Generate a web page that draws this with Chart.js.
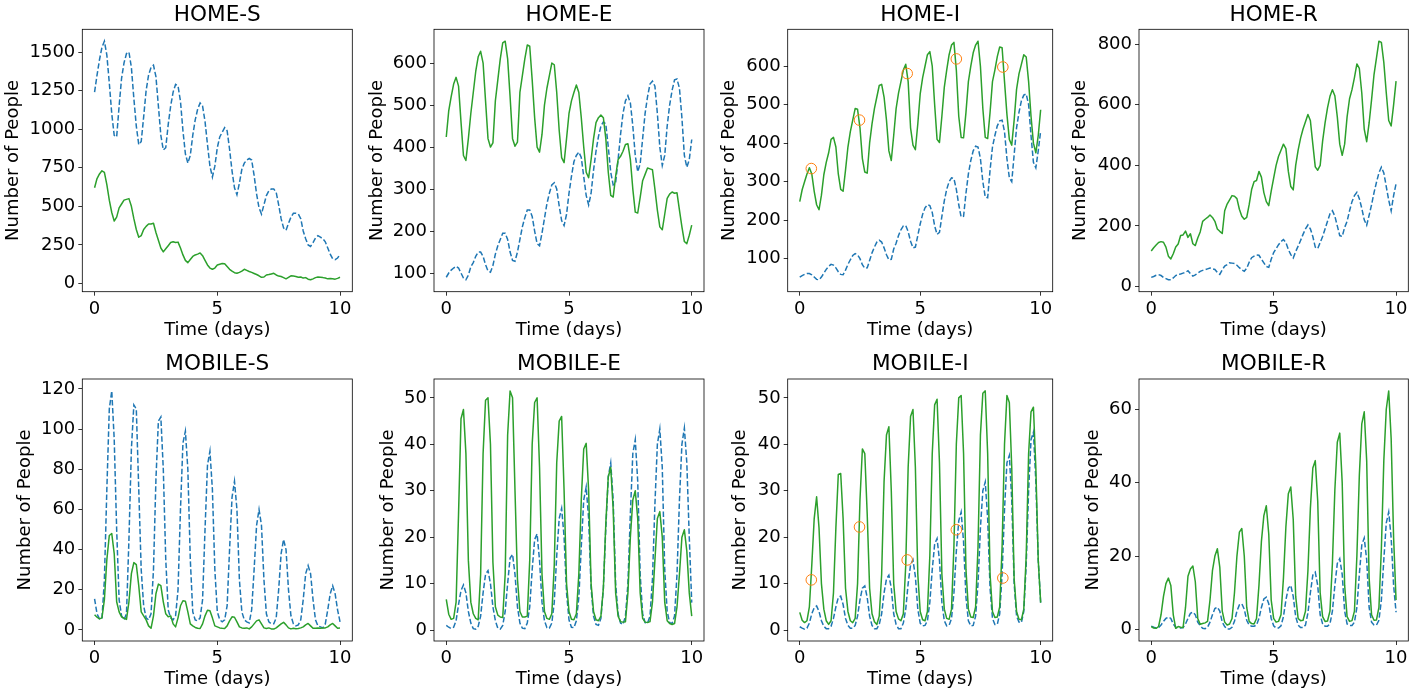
<!DOCTYPE html>
<html lang="en">
<head>
  <meta charset="UTF-8">
  <title>Home / Mobile compartments over 10 days</title>
  <script src="https://cdn.jsdelivr.net/npm/chart.js"></script>
  <style>
    body { margin: 0; background: #fff; }
    #fig { position: relative; width: 1415px; height: 695px; overflow: hidden; }
    #fig canvas { position: absolute; }
  </style>
</head>
<body>
<div id="fig"></div>
<script>
// time axis (days), one sample every 0.1 day
const days = [
  0, 0.1, 0.2, 0.3, 0.4, 0.5, 0.6, 0.7, 0.8, 0.9,
  1, 1.1, 1.2, 1.3, 1.4, 1.5, 1.6, 1.7, 1.8, 1.9,
  2, 2.1, 2.2, 2.3, 2.4, 2.5, 2.6, 2.7, 2.8, 2.9,
  3, 3.1, 3.2, 3.3, 3.4, 3.5, 3.6, 3.7, 3.8, 3.9,
  4, 4.1, 4.2, 4.3, 4.4, 4.5, 4.6, 4.7, 4.8, 4.9,
  5, 5.1, 5.2, 5.3, 5.4, 5.5, 5.6, 5.7, 5.8, 5.9,
  6, 6.1, 6.2, 6.3, 6.4, 6.5, 6.6, 6.7, 6.8, 6.9,
  7, 7.1, 7.2, 7.3, 7.4, 7.5, 7.6, 7.7, 7.8, 7.9,
  8, 8.1, 8.2, 8.3, 8.4, 8.5, 8.6, 8.7, 8.8, 8.9,
  9, 9.1, 9.2, 9.3, 9.4, 9.5, 9.6, 9.7, 9.8, 9.9,
  10
];

// dashed (blue) and solid (green) series for each compartment
const homeS_dashed = [
  1240,1350,1450,1530,1570,1480,1300,1100,960,950,
  1150,1330,1430,1490,1500,1400,1200,1020,900,920,
  1080,1250,1350,1400,1415,1340,1150,960,865,880,
  1030,1150,1240,1290,1280,1180,990,840,780,830,
  960,1060,1130,1170,1150,1050,900,760,690,760,
  880,950,980,1010,990,870,730,620,575,650,
  740,780,800,810,800,700,580,490,450,510,
  570,600,612,612,590,510,420,360,345,390,
  430,455,455,450,420,340,290,250,240,265,
  295,310,300,290,270,230,190,160,155,165,
  187
];
const homeS_solid = [
  620,680,710,730,720,640,540,460,405,430,
  490,515,540,545,550,500,420,350,300,310,
  350,370,385,385,390,330,280,230,205,225,
  245,265,270,265,268,230,185,150,135,155,
  175,185,190,198,180,150,120,100,92,100,
  120,125,130,128,110,92,80,70,66,72,
  80,92,85,78,72,65,58,50,40,42,
  55,58,62,66,55,48,45,38,30,40,
  50,48,45,40,42,35,38,28,24,30,
  38,42,40,38,35,30,32,30,28,33,
  40
];

const homeE_dashed = [
  90,100,107,112,116,112,100,88,84,95,
  115,125,140,150,150,140,120,105,102,118,
  145,165,180,195,195,180,150,130,128,150,
  180,210,232,250,250,235,200,170,165,195,
  230,265,290,310,315,300,260,225,213,240,
  290,330,365,380,388,375,330,285,262,290,
  345,390,425,450,460,455,400,340,310,315,
  370,430,480,510,522,505,450,380,341,360,
  420,480,520,550,557,545,480,400,356,380,
  450,500,535,560,562,540,470,380,352,370,
  418
];
const homeE_solid = [
  424,486,520,550,566,545,460,380,368,420,
  480,530,580,615,628,600,510,420,400,410,
  510,560,610,648,652,610,520,420,402,412,
  530,570,610,643,640,560,470,400,388,430,
  500,540,570,600,596,530,440,375,363,420,
  480,510,530,548,530,470,400,340,327,370,
  420,458,470,476,470,420,340,285,281,330,
  370,378,390,406,408,370,300,245,243,280,
  320,335,350,348,346,300,250,210,203,240,
  278,288,293,290,291,250,210,175,170,190,
  214
];

const homeI_dashed = [
  52,56,59,61,61,58,52,46,45,52,
  62,72,80,85,83,76,66,59,58,70,
  85,97,108,113,110,100,84,75,76,95,
  115,130,143,148,143,128,110,97,98,125,
  140,160,175,185,186,170,145,128,130,160,
  190,215,232,240,238,220,185,163,168,210,
  250,280,300,310,308,280,240,208,210,270,
  320,355,380,392,390,360,300,260,258,330,
  390,420,445,458,460,430,360,310,300,370,
  440,480,510,525,528,500,420,350,336,380,
  432
];
const homeI_solid = [
  248,279,300,320,336,320,275,240,227,265,
  318,350,375,410,415,390,320,280,275,330,
  390,430,460,490,488,440,360,325,322,400,
  450,490,520,550,553,520,460,380,355,420,
  490,530,560,590,605,560,440,395,383,450,
  528,570,600,630,638,600,500,410,402,470,
  545,590,630,655,662,590,470,415,414,480,
  560,600,635,655,665,600,490,415,412,480,
  560,590,625,650,648,560,475,410,395,460,
  540,580,605,630,624,560,470,400,375,420,
  487
];

const homeR_dashed = [
  30,33,37,39,36,30,26,22,22,28,
  36,40,41,44,46,52,42,34,38,44,
  50,53,55,58,61,58,56,46,40,55,
  67,72,78,77,76,70,62,55,50,60,
  80,95,100,104,103,90,78,66,63,90,
  112,125,138,148,155,145,122,105,94,115,
  133,152,172,190,203,190,165,130,125,145,
  165,190,215,240,250,232,200,168,165,195,
  215,250,280,300,311,290,258,220,202,235,
  270,310,344,375,394,375,330,285,250,300,
  339
];
const homeR_solid = [
  117,128,137,145,148,146,130,100,91,108,
  130,140,168,170,183,162,174,141,135,160,
  180,215,222,228,236,228,215,190,182,175,
  250,272,286,300,298,290,255,232,222,228,
  270,320,346,350,380,361,310,280,267,315,
  358,400,430,450,470,455,380,330,319,400,
  450,490,520,544,568,548,470,395,384,400,
  480,540,590,628,650,630,560,470,433,470,
  560,620,650,690,735,720,639,520,478,540,
  617,700,755,810,806,740,640,548,530,600,
  678
];

const mobileS_dashed = [
  15.5,8,5.5,5.5,25,70,110,119,95,50,
  15,7,5,8,45,90,112,110,70,30,
  12,6,5,8,30,75,104,106,80,35,
  10,6,5,7,20,60,93,99,80,35,
  9,5,4.5,6,15,50,82,89,70,30,
  9,5,4,5,12,40,66,74,60,25,
  9,5,4,3.5,10,30,52,60,52,25,
  8,4,3,3,6,20,38,45,40,20,
  7,3,2,2.5,5,15,28,32,28,15,
  5,2,1.5,1,3,10,18,22,18,10,
  4
];
const mobileS_solid = [
  7.5,6.3,5.5,6,15,35,47,48,38,14,
  9,6.5,5.8,5.2,14,28,33.5,32.5,22,9,
  7,5,2,0.8,7,18,22.8,22,14,8,
  6.5,7,3,1.5,6,12,14.5,14.3,9,3,
  2,1.2,0.8,0.7,3,7,9.8,9.5,6,2,
  1.5,1,0.8,0.7,2,4.5,6.5,6.3,4,1.5,
  1,0.8,1,0.5,1.5,3,4.5,5,3,1,
  0.7,1,0.5,0.4,1,2,3,3.8,2.5,1,
  0.5,0.8,0.6,0.7,1,1.5,2.5,3.2,2,0.8,
  0.8,0.9,0.8,0.9,1,1.5,2.5,3.2,2,0.8,
  0.9
];

const mobileE_dashed = [
  1,0.6,0.3,0.6,2,5.5,8.5,9.7,8,4,
  1.5,0.3,0.2,0.8,3,8,12,12.8,10,5,
  2,0.4,0.2,1,4,10,15.5,16.3,12,5,
  1.5,0.4,0.3,1.5,5,13,19.5,20.7,15,6,
  2,0.5,0.4,1.5,6,16,24,26.2,20,8,
  2.2,0.6,0.5,2,7,18,28,30.8,24,9,
  3,1.2,1,2.5,9,22,33,36,28,10,
  3.5,1.5,1.2,3,10,25,38,41,32,12,
  3.5,1.6,1.5,3,11,27,40,43.3,35,13,
  4,1.6,1.4,3,12,28,40,43.5,36,20,
  5.9
];
const mobileE_solid = [
  6.6,3.4,2.3,2.5,6,25,45.5,47.5,38,15,
  6,3.5,2.5,2.2,12,38,49.5,50,40,14.6,
  5,3.2,2.8,2.7,12,42,51.5,50,30,11,
  4,2.8,2.8,3,15,40,49,50,35,12,
  4,2.5,2.3,3.5,14,36,45,46,30,10,
  4,2.3,2.2,3.5,12,28,39,40.2,30,10,
  4,2.2,2,3,9,23,33,35,26,8,
  3,1.8,1.7,1.8,8,20,28,30,24,8,
  2.5,1.7,1.6,1.8,6,15,24,25.5,20,6,
  2,1.4,1.2,1.4,5,12,20,21.6,17,8,
  3
];

const mobileI_dashed = [
  0.7,0.4,0.2,0.4,1.5,3.5,4.8,5.2,4,2,
  0.8,0.3,0.3,0.8,2.5,5,7,7.3,5.5,2.5,
  1,0.4,0.4,1,3,6.5,9,9.5,7,3,
  1,0.3,0.3,1.2,3.5,8,11,11.8,9,3.5,
  1.2,0.3,0.3,1.5,4.5,10,14,15.1,11.5,4.5,
  1.5,0.9,1,2,6,13,18.5,19.7,15,6,
  2,0.9,1,2.5,8,17,23.5,25.4,19,7,
  2,0.9,1,3,10,22,30,31.9,24,9,
  2.5,1.2,1.2,3.5,12,26,36,37.6,28,10,
  3,1.7,1.6,4,14,30,41,42.6,32,15,
  5.9
];
const mobileI_solid = [
  3.8,2.1,1.6,2,5,14,24,28.7,22,10,
  4.5,2,1.2,2,8,22,33.5,33.7,24,9,
  4,2,1.6,2.5,10,28,39,38,25,9,
  3.5,1.8,1.2,3,12,32,42,43.8,30,10,
  4,2.4,2,3.5,14,35,46,47.5,35,12,
  4,2.2,2,4,16,38,48.5,49.7,36,12,
  4.5,2.5,2.3,4.5,18,40,50,50.5,38,13,
  4.5,2.8,2.7,5,18,42,51,51.5,38,12,
  4,2.7,2.8,5,18,40,50.5,49,35,11,
  4,2.3,2.2,4.5,16,38,47,48,35,15,
  5.9
];

const mobileR_dashed = [
  0.9,0.6,0.4,0.5,1.2,2.2,3,3.4,3,1.5,
  0.6,0.4,0.4,0.5,1.5,3,4.4,4.7,4,2,
  1,0.3,0.2,0.6,2,4,5.7,6.1,5,2,
  0.8,0.1,0.1,0.6,2.2,5,6.7,7,5.5,2.5,
  1.2,0.9,0.9,1.2,3,6,8.3,8.8,7,3,
  1,0.4,0.4,1,3.5,8,11.3,12,9,3.5,
  1.2,0.5,0.5,1.2,4.5,10,14.8,15.6,12,4,
  1.5,0.9,0.9,1.5,5,12,18,19.3,15,5,
  1.5,1.1,1.1,2,6,15,23,24.9,19,6,
  2,1.2,1.2,2.5,8,19,29,32,25,12,
  4.7
];
const mobileR_solid = [
  0.8,0.4,0.3,0.8,4,9,12.5,14,12,4,
  0.3,0.8,0.6,0.5,6,14.5,16.5,17.3,13,3,
  1.4,1.6,1.8,2.2,8,16,20,22,17,5,
  2,1.2,1.5,3,10,20,26.5,27.5,20,6,
  2.2,1.6,1.5,3,12,24,31,33.7,26,8,
  3,2,2.2,4,14,28,37,38.8,30,9,
  3,2.4,2.5,5,16,33,44,46,35,10,
  3.5,2.2,2.3,5,18,38,51,53.5,40,12,
  3.5,2.2,2.4,5,20,42,56,59.3,46,14,
  4,2.5,2.6,6,22,46,60,65,52,25,
  8
];

// orange open-circle markers on the I panels
const markDays = [0.48, 2.48, 4.46, 6.5, 8.43];
const homeI_marks = [334, 460, 581, 619, 598];
const mobileI_marks = [10.8, 22.2, 15.1, 21.6, 11.2];

const xTicks = [0, 5, 10];
const titles = ['HOME-S', 'HOME-E', 'HOME-I', 'HOME-R', 'MOBILE-S', 'MOBILE-E', 'MOBILE-I', 'MOBILE-R'];
const yTickSets = [
  [0, 250, 500, 750, 1000, 1250, 1500],
  [100, 200, 300, 400, 500, 600],
  [100, 200, 300, 400, 500, 600],
  [0, 200, 400, 600, 800],
  [0, 20, 40, 60, 80, 100, 120],
  [0, 10, 20, 30, 40, 50],
  [0, 10, 20, 30, 40, 50],
  [0, 20, 40, 60]
];
const dashedSets = [homeS_dashed, homeE_dashed, homeI_dashed, homeR_dashed,
                    mobileS_dashed, mobileE_dashed, mobileI_dashed, mobileR_dashed];
const solidSets = [homeS_solid, homeE_solid, homeI_solid, homeR_solid,
                   mobileS_solid, mobileE_solid, mobileI_solid, mobileR_solid];
const markSets = [null, null, homeI_marks, null, null, null, mobileI_marks, null];

// axes boxes on the page (px) and centre of the y-axis label
const boxes = [
  {left: 82.3, right: 352.3, top: 29.3, bottom: 291.7, labelX: 14.5},
  {left: 434, right: 704, top: 29.3, bottom: 291.7, labelX: 378.3},
  {left: 787.7, right: 1056, top: 29.3, bottom: 291.7, labelX: 730.3},
  {left: 1139, right: 1408.3, top: 29.3, bottom: 291.7, labelX: 1081.7},
  {left: 82.3, right: 352.3, top: 379, bottom: 641, labelX: 25.8},
  {left: 434, right: 704, top: 379, bottom: 641, labelX: 388.8},
  {left: 787.7, right: 1056, top: 379, bottom: 641, labelX: 741.7},
  {left: 1139, right: 1408.3, top: 379, bottom: 641, labelX: 1093.8}
];

Chart.defaults.font.family = "'DejaVu Sans', sans-serif";
Chart.defaults.color = '#000';

const frame = {
  id: 'frame',
  afterDatasetsDraw(chart) {
    const {ctx, chartArea: a} = chart;
    ctx.save();
    ctx.strokeStyle = '#000';
    ctx.lineWidth = 0.8;
    ctx.strokeRect(a.left, a.top, a.right - a.left, a.bottom - a.top);
    ctx.restore();
  }
};

const fig = document.getElementById('fig');
const GAP = 30, XAX_H = 49.5;

function pts(xs, ys) {
  return xs.map((x, i) => ({x: x, y: ys[i]}));
}

titles.forEach((title, k) => {
  const b = boxes[k];
  const dashed = dashedSets[k], solid = solidSets[k], marks = markSets[k];
  const all = dashed.concat(solid, marks || []);
  const lo = Math.min(...all), hi = Math.max(...all), m = (hi - lo) * 0.05;

  const cl = Math.floor(b.labelX - 10.8);
  const ct = Math.round(b.top - GAP);
  const off = b.top - ct;
  const axH = b.bottom - b.top;
  const w = Math.ceil(b.right + 3 - cl);
  const h = Math.ceil(off + axH + 53);

  const cv = document.createElement('canvas');
  cv.width = w; cv.height = h;
  cv.style.left = cl + 'px';
  cv.style.top = ct + 'px';
  fig.appendChild(cv);

  const datasets = [];
  if (marks) {
    datasets.push({
      data: pts(markDays, marks), showLine: false,
      pointRadius: 5.3, pointStyle: 'circle', pointBorderWidth: 1,
      pointBorderColor: '#ff7f0e', pointBackgroundColor: 'rgba(0,0,0,0)'
    });
  }
  datasets.push({
    data: pts(days, solid), borderColor: '#2ca02c', borderWidth: 1.5,
    pointRadius: 0, borderJoinStyle: 'round', tension: 0
  });
  datasets.push({
    data: pts(days, dashed), borderColor: '#1f77b4', borderWidth: 1.5,
    borderDash: [5.5, 2.4], pointRadius: 0, tension: 0
  });

  new Chart(cv, {
    type: 'line',
    data: {datasets: datasets},
    options: {
      responsive: false,
      animation: false,
      events: [],
      layout: {padding: {left: 0, top: 0, right: w - (b.right - cl), bottom: h - off - axH - XAX_H}},
      plugins: {
        legend: {display: false},
        tooltip: {enabled: false},
        title: {
          display: true, text: title, fullSize: false,
          font: {size: 21.6, weight: 'normal'},
          padding: {top: off - 27.26, bottom: 1.34}
        }
      },
      scales: {
        x: {
          type: 'linear', min: -0.5, max: 10.5,
          afterBuildTicks: s => { s.ticks = xTicks.map(v => ({value: v})); },
          afterFit: s => { s.height = XAX_H; },
          grid: {drawOnChartArea: false, drawTicks: true, tickLength: 4, color: '#000', lineWidth: 0.8},
          border: {display: false},
          ticks: {font: {size: 18}, padding: 3, autoSkip: false, maxRotation: 0, callback: v => String(v)},
          title: {display: true, text: 'Time (days)', font: {size: 18}, padding: 0}
        },
        y: {
          type: 'linear', min: lo - m, max: hi + m,
          afterBuildTicks: s => { s.ticks = yTickSets[k].map(v => ({value: v})); },
          afterFit: s => { s.width = b.left - cl; },
          grid: {drawOnChartArea: false, drawTicks: true, tickLength: 4, color: '#000', lineWidth: 0.8},
          border: {display: false},
          ticks: {font: {size: 18}, padding: 3, autoSkip: false, callback: v => String(v)},
          title: {display: true, text: 'Number of People', font: {size: 18}, padding: 0}
        }
      }
    },
    plugins: [frame]
  });
});
</script>
</body>
</html>
